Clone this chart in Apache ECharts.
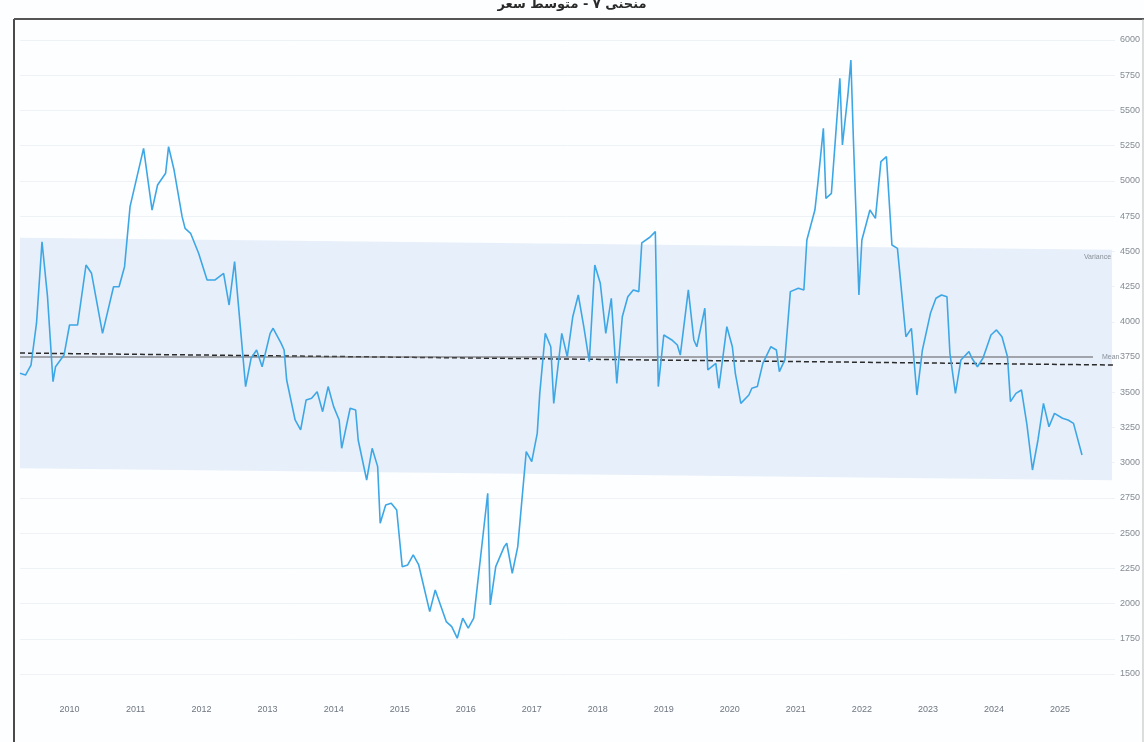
<!DOCTYPE html>
<html>
<head>
<meta charset="utf-8">
<script src="https://cdn.jsdelivr.net/npm/echarts@6/dist/echarts.min.js"></script>
<style>
  html, body { margin: 0; padding: 0; background: #fdfeff; }
  #chart { width: 1144px; height: 742px; }
</style>
</head>
<body>
<div id="chart"></div>
<script>
// ---- data ----
const titleText = 'منحنى ٧ - متوسط سعر';
const dates = [
  '2009-04-01','2009-05-01','2009-06-01','2009-07-01','2009-08-01','2009-09-01','2009-10-01','2009-10-15','2009-12-01',
  '2010-01-01','2010-02-15','2010-04-01','2010-05-01','2010-07-01','2010-09-01','2010-10-01','2010-11-01','2010-12-01',
  '2011-02-15','2011-04-01','2011-05-01','2011-06-15','2011-07-01','2011-08-01','2011-09-15','2011-10-01','2011-11-01','2011-12-15',
  '2012-02-01','2012-03-15','2012-05-01','2012-06-01','2012-07-01','2012-09-01','2012-10-01','2012-11-01','2012-12-01',
  '2013-01-15','2013-02-01','2013-03-15','2013-04-01','2013-04-15','2013-06-01','2013-07-01','2013-08-01','2013-09-01','2013-10-01','2013-11-01','2013-12-01',
  '2014-01-01','2014-02-01','2014-02-15','2014-04-01','2014-05-01','2014-05-15','2014-07-01','2014-08-01','2014-09-01','2014-09-15','2014-10-15','2014-11-15','2014-12-15',
  '2015-01-15','2015-02-15','2015-03-15','2015-04-15','2015-06-15','2015-07-15','2015-09-15','2015-10-15','2015-11-15','2015-12-15',
  '2016-01-15','2016-02-15','2016-05-01','2016-05-15','2016-06-15','2016-08-01','2016-08-15','2016-09-15','2016-10-15','2016-12-01',
  '2017-01-01','2017-02-01','2017-02-15','2017-03-15','2017-04-15','2017-05-01','2017-06-15','2017-07-15','2017-08-15','2017-09-15','2017-10-15','2017-11-15','2017-12-15',
  '2018-01-15','2018-02-15','2018-03-15','2018-04-15','2018-05-15','2018-06-15','2018-07-15','2018-08-15','2018-09-01','2018-10-15','2018-11-15','2018-12-01',
  '2019-01-01','2019-02-15','2019-03-15','2019-04-01','2019-05-15','2019-06-15','2019-07-01','2019-08-15','2019-09-01','2019-10-15','2019-11-01','2019-12-15',
  '2020-01-15','2020-02-01','2020-03-01','2020-04-15','2020-05-01','2020-06-01','2020-07-01','2020-08-15','2020-09-15','2020-10-01','2020-11-01','2020-12-01',
  '2021-01-15','2021-02-15','2021-03-01','2021-04-15','2021-05-01','2021-06-01','2021-06-15','2021-07-15','2021-09-01','2021-09-15','2021-10-15','2021-11-01','2021-11-15','2021-12-15',
  '2022-01-01','2022-02-15','2022-03-15','2022-04-15','2022-05-15','2022-06-15','2022-07-15','2022-09-01','2022-10-01','2022-11-01','2022-12-01',
  '2023-01-15','2023-02-15','2023-03-15','2023-04-15','2023-05-01','2023-06-01','2023-07-01','2023-08-15','2023-09-01','2023-10-01','2023-11-01','2023-12-15',
  '2024-01-15','2024-02-15','2024-03-15','2024-04-01','2024-05-01','2024-06-01','2024-07-01','2024-08-01','2024-09-01','2024-10-01','2024-11-01','2024-12-01',
  '2025-01-15','2025-02-15','2025-03-15','2025-05-01'
];
const prices = [
  3634,3622,3693,3990,4568,4178,3575,3681,3764,
  3977,3977,4403,4344,3918,4249,4249,4391,4817,
  5231,4793,4971,5054,5243,5077,4746,4663,4628,4486,
  4297,4297,4344,4119,4427,3540,3741,3800,3681,
  3918,3954,3847,3800,3587,3303,3232,3445,3457,3504,3362,3540,
  3398,3303,3102,3386,3374,3161,2877,3102,2972,2570,2700,2712,2664,
  2262,2274,2345,2274,1943,2096,1872,1836,1754,1896,
  1825,1896,2783,1990,2262,2404,2428,2215,2404,3078,
  3007,3208,3492,3918,3823,3421,3918,3752,4036,4190,3965,3717,4403,
  4273,3918,4167,3563,4036,4178,4226,4214,4560,4600,4640,3540,
  3906,3871,3835,3764,4226,3871,3823,4096,3658,3705,3528,3965,
  3823,3634,3421,3480,3528,3540,3705,3823,3800,3646,3729,4214,
  4238,4226,4580,4793,4983,5373,4876,4912,5728,5255,5610,5858,5290,4190,
  4580,4793,4734,5137,5172,4545,4521,3894,3953,3480,3800,
  4060,4167,4190,4178,3776,3492,3729,3788,3741,3681,3741,3906,
  3942,3894,3752,3433,3492,3516,3268,2948,3161,3421,3255,3350,
  3315,3303,3279,3054
];
const yearLabels = [2010,2011,2012,2013,2014,2015,2016,2017,2018,2019,2020,2021,2022,2023,2024,2025];
const meanValue = 3750;
const trendStartValue = 3778;
const trendEndValue = 3693;
const bandHalfWidth = 818;
const axisStartDate = '2009-04-01';
const axisEndDate = '2025-11-01';
const bandEndDate = '2025-10-15';
const meanEndDate = '2025-07-01';
const meanLabel = 'Mean';
const bandLabel = 'Variance';

// ---- helpers ----
function toYear(d) {
  const [y, m, day] = d.split('-').map(Number);
  return y + (m - 1) / 12 + (day - 1) / 365.25;
}
const x0 = toYear(axisStartDate);
const x1 = toYear(axisEndDate);
const xBandEnd = toYear(bandEndDate);
const xMeanEnd = toYear(meanEndDate);
const trendAt = x => trendStartValue + (trendEndValue - trendStartValue) * (x - x0) / (x1 - x0);
const priceData = dates.map((d, i) => [toYear(d), prices[i]]);

const chart = echarts.init(document.getElementById('chart'), null, { renderer: 'canvas' });
const option = {
  backgroundColor: '#fdfeff',
  animation: false,
  title: {
    text: titleText,
    left: 'center',
    top: -7,
    textStyle: { fontFamily: 'DejaVu Sans', fontSize: 13, fontWeight: 'bold', color: '#2a2a2a' }
  },
  grid: { left: 20, right: 29, top: 40, bottom: 68, containLabel: false },
  xAxis: {
    type: 'value',
    min: x0,
    max: x1,
    axisLine: { show: false },
    axisTick: { show: false },
    splitLine: { show: false },
    axisLabel: {
      customValues: yearLabels,
      formatter: v => String(Math.round(v)),
      color: '#6f7680',
      fontSize: 9,
      margin: 31,
      fontFamily: 'Liberation Sans'
    }
  },
  yAxis: {
    type: 'value',
    position: 'right',
    min: 1500,
    max: 6000,
    interval: 250,
    axisLine: { show: false },
    axisTick: { show: false },
    splitLine: { lineStyle: { color: '#eef1f6', width: 1 } },
    axisLabel: { formatter: v => String(v), color: '#858b93', fontSize: 9, margin: 5, fontFamily: 'Liberation Sans' }
  },
  graphic: [
    { type: 'line', shape: { x1: 14, y1: 19, x2: 14, y2: 742 }, style: { stroke: '#4a4a4a', lineWidth: 2 }, z: 100 },
    { type: 'line', shape: { x1: 14, y1: 19, x2: 1144, y2: 19 }, style: { stroke: '#555', lineWidth: 2 }, z: 100 },
    { type: 'line', shape: { x1: 1143, y1: 19, x2: 1143, y2: 742 }, style: { stroke: '#bbb', lineWidth: 1 }, z: 100 }
  ],
  series: [
    {
      name: 'band',
      type: 'custom',
      silent: true,
      clip: false,
      data: [[x0, trendStartValue]],
      renderItem: (params, api) => {
        const xs = x0, xe = xBandEnd;
        const p1 = api.coord([xs, trendAt(xs) + bandHalfWidth]);
        const p2 = api.coord([xe, trendAt(xe) + bandHalfWidth]);
        const p3 = api.coord([xe, trendAt(xe) - bandHalfWidth]);
        const p4 = api.coord([xs, trendAt(xs) - bandHalfWidth]);
        return {
          type: 'group',
          children: [
            { type: 'polygon', shape: { points: [p1, p2, p3, p4] }, style: { fill: '#e7effa' } },
            { type: 'text', x: p2[0] - 1, y: p2[1] + 4,
              style: { text: bandLabel, align: 'right', verticalAlign: 'top', fill: '#8a9098', fontSize: 7, fontFamily: 'Liberation Sans' } }
          ]
        };
      },
      z: 1
    },
    {
      name: 'trend',
      type: 'line',
      symbol: 'none',
      silent: true,
      lineStyle: { color: '#2b2b2b', width: 1.5, type: [5, 3] },
      data: [[x0, trendStartValue], [x1, trendEndValue]],
      z: 3
    },
    {
      name: 'mean',
      type: 'line',
      symbol: 'none',
      silent: true,
      lineStyle: { color: '#5c5c5c', width: 1.2 },
      data: [[x0, meanValue], [xMeanEnd, meanValue]],
      endLabel: { show: true, formatter: meanLabel, color: '#8a9098', fontSize: 7, offset: [1, 0] },
      z: 3
    },
    {
      name: 'price',
      type: 'line',
      symbol: 'none',
      lineStyle: { color: '#3da7e6', width: 1.6 },
      data: priceData,
      z: 5
    }
  ]
};
chart.setOption(option);
</script>
</body>
</html>
